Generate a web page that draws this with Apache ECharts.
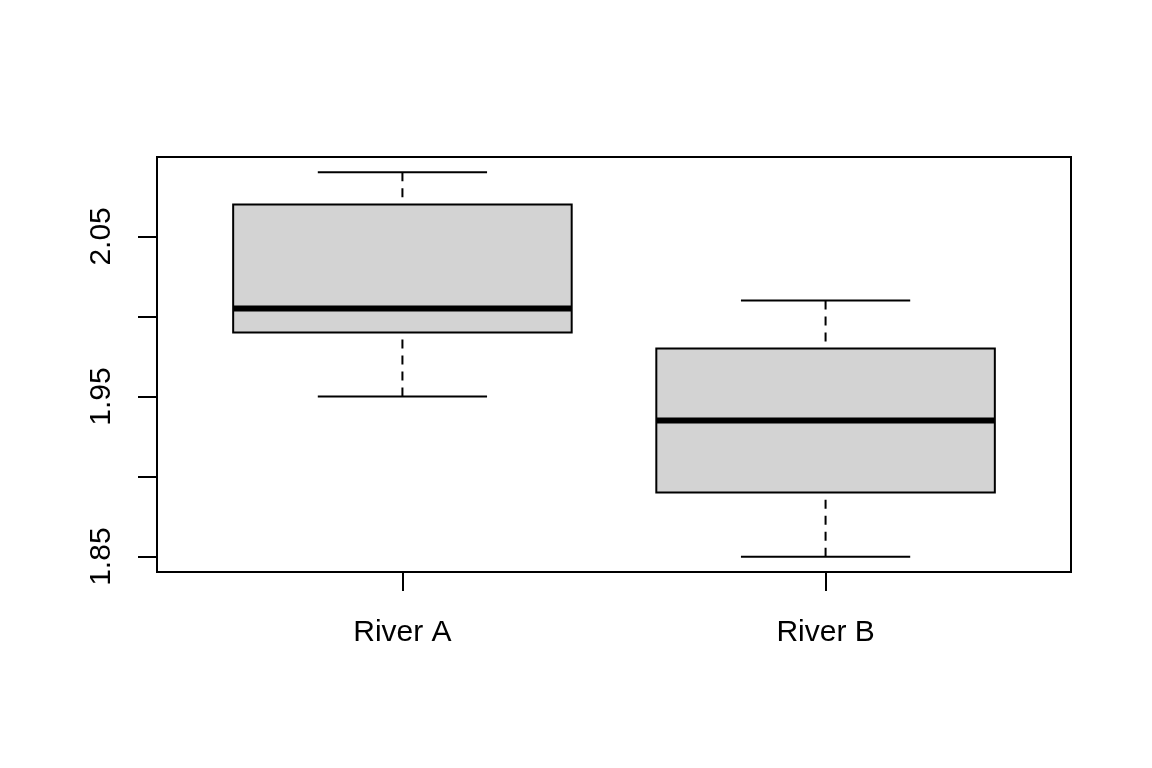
<!DOCTYPE html>
<html>
<head>
<meta charset="utf-8">
<script src="https://cdn.jsdelivr.net/npm/echarts@6/dist/echarts.min.js"></script>
<style>html,body{margin:0;padding:0;background:#fff;}#chart{width:1152px;height:768px;}</style>
</head>
<body>
<div id="chart"></div>
<script>
// Data
var categories = ['River A', 'River B'];
var positions = [1, 2];
var whiskerLow = [1.95, 1.85];
var q1 = [1.99, 1.89];
var median = [2.005, 1.935];
var q3 = [2.07, 1.98];
var whiskerHigh = [2.09, 2.01];
var yTicks = [1.85, 1.90, 1.95, 2.00, 2.05];
var yLabels = [1.85, 1.95, 2.05];

var BOX_WIDTH = 0.8, CAP_WIDTH = 0.4;

var data = positions.map(function (p, i) {
  return [p, whiskerLow[i], q1[i], median[i], q3[i], whiskerHigh[i]];
});

var chart = echarts.init(document.getElementById('chart'), null, {renderer: 'canvas'});
var font = 'Liberation Sans, Arial, sans-serif';

chart.setOption({
  animation: false,
  backgroundColor: '#ffffff',
  grid: {left: 157, top: 157, right: 81, bottom: 196, show: true, borderColor: '#000', borderWidth: 2, backgroundColor: 'transparent'},
  xAxis: {
    type: 'value', min: 0.42, max: 2.58,
    axisLine: {show: false},
    splitLine: {show: false},
    axisTick: {show: true, inside: false, length: 19, customValues: positions, lineStyle: {color: '#000', width: 2}},
    axisLabel: {
      customValues: positions, margin: 46, color: '#000', fontSize: 30, fontFamily: font,
      formatter: function (v) { var i = positions.indexOf(v); return i >= 0 ? categories[i] : ''; }
    }
  },
  yAxis: {
    type: 'value', min: 1.8404, max: 2.0996,
    axisLine: {show: false},
    splitLine: {show: false},
    axisTick: {show: true, inside: false, length: 19, customValues: yTicks, lineStyle: {color: '#000', width: 2}},
    axisLabel: {
      customValues: yLabels, rotate: 90, margin: 40, color: '#000', fontSize: 30, fontFamily: font,
      formatter: function (v) { return v.toFixed(2); }
    }
  },
  series: [{
    type: 'custom',
    data: data,
    encode: {x: 0, y: [1, 2, 3, 4, 5]},
    renderItem: function (params, api) {
      var x = api.value(0);
      var pLo = api.coord([x, api.value(1)]);
      var pQ1 = api.coord([x, api.value(2)]);
      var pMed = api.coord([x, api.value(3)]);
      var pQ3 = api.coord([x, api.value(4)]);
      var pHi = api.coord([x, api.value(5)]);
      var bw = api.size([BOX_WIDTH, 0])[0];
      var cw = api.size([CAP_WIDTH, 0])[0];
      var cx = pMed[0];
      var dashed = {stroke: '#000', lineWidth: 2, lineDash: [9, 7], lineCap: 'butt'};
      var solid = {stroke: '#000', lineWidth: 2};
      return {
        type: 'group',
        children: [
          {type: 'line', shape: {x1: cx, y1: pLo[1], x2: cx, y2: pQ1[1]}, style: dashed},
          {type: 'line', shape: {x1: cx, y1: pHi[1], x2: cx, y2: pQ3[1]}, style: dashed},
          {type: 'line', shape: {x1: cx - cw / 2, y1: pLo[1], x2: cx + cw / 2, y2: pLo[1]}, style: solid},
          {type: 'line', shape: {x1: cx - cw / 2, y1: pHi[1], x2: cx + cw / 2, y2: pHi[1]}, style: solid},
          {type: 'rect', shape: {x: cx - bw / 2, y: pQ3[1], width: bw, height: pQ1[1] - pQ3[1]}, style: {fill: '#d3d3d3', stroke: '#000', lineWidth: 2}},
          {type: 'line', shape: {x1: cx - bw / 2, y1: pMed[1], x2: cx + bw / 2, y2: pMed[1]}, style: {stroke: '#000', lineWidth: 6, lineCap: 'butt'}}
        ]
      };
    }
  }]
});
</script>
</body>
</html>
